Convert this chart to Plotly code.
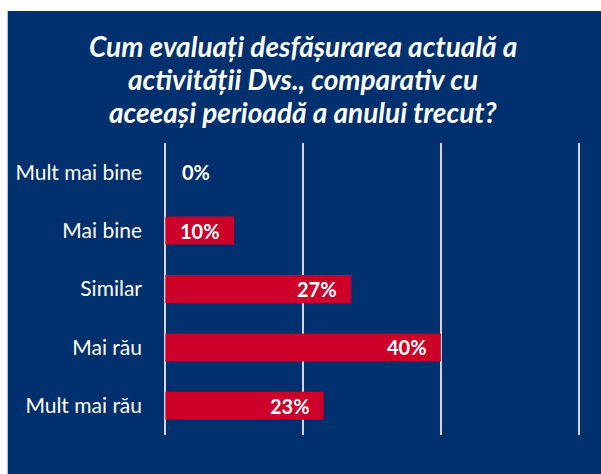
import plotly.graph_objects as go

categories = ["Mult mai bine", "Mai bine", "Similar", "Mai rău", "Mult mai rău"]
values = [0, 10, 27, 40, 23]
value_labels = ["0%", "10%", "27%", "40%", "23%"]
x_ticks = [0, 20, 40, 60]
title_lines = [
    "Cum evaluați desfășurarea actuală a",
    "activității Dvs., comparativ cu",
    "aceeași perioadă a anului trecut?",
]

W, H = 601, 474
X0_PX, X60_PX = 165, 579
UNIT = (X60_PX - X0_PX) / 60.0
XMIN, XMAX = -0.35, 60.35
L = X0_PX - (0 - XMIN) * UNIT
R = W - (X60_PX + (XMAX - 60) * UNIT)
T, B = 143, 39
PW, PH = W - L - R, H - T - B

BLUE = "#00306e"
RED = "#cc0029"
FONT = "Lato"


def px_to_paper_x(px):
    return (px - L) / PW


def px_to_paper_y(py):
    return (H - B - py) / PH


fig = go.Figure(
    go.Bar(
        x=values,
        y=categories,
        orientation="h",
        marker=dict(color=RED, line=dict(width=0)),
        width=0.48,
        hoverinfo="skip",
    )
)

annotations = []
for cat, v, lab in zip(categories, values, value_labels):
    if v > 0:
        annotations.append(dict(x=v, y=cat, xref="x", yref="y", text=lab, showarrow=False,
                                xanchor="right", xshift=-12,
                                font=dict(family=FONT, size=20, color="white", weight="bold")))
    else:
        annotations.append(dict(x=v, y=cat, xref="x", yref="y", text=lab, showarrow=False,
                                xanchor="left", xshift=15,
                                font=dict(family=FONT, size=20, color="white", weight="bold")))

title_centers = [46, 79, 112]
for line, cy in zip(title_lines, title_centers):
    annotations.append(dict(x=px_to_paper_x(303), y=px_to_paper_y(cy), xref="paper", yref="paper",
                            text=line, showarrow=False, xanchor="center", yanchor="middle",
                            font=dict(family=FONT, size=28, color="white", weight="bold", style="italic")))

fig.update_layout(
    width=W,
    height=H,
    margin=dict(l=L, r=R, t=T, b=B, pad=0),
    paper_bgcolor="white",
    plot_bgcolor=BLUE,
    showlegend=False,
    bargap=0.52,
    annotations=annotations,
    shapes=[
        dict(type="rect", xref="paper", yref="paper",
             x0=px_to_paper_x(7), x1=px_to_paper_x(W + 2),
             y0=px_to_paper_y(H + 2), y1=px_to_paper_y(11),
             fillcolor=BLUE, line=dict(width=0), layer="below"),
        dict(type="line", xref="paper", yref="paper",
             x0=px_to_paper_x(6.5), x1=px_to_paper_x(6.5),
             y0=px_to_paper_y(H + 2), y1=px_to_paper_y(11),
             line=dict(color="#c8c8c8", width=1), layer="below"),
    ],
    xaxis=dict(
        range=[XMIN, XMAX],
        tickvals=x_ticks,
        showticklabels=False,
        showgrid=True,
        gridcolor="#d4d4d4",
        gridwidth=1.5,
        zeroline=False,
        showline=False,
        fixedrange=True,
    ),
    yaxis=dict(
        autorange="reversed",
        showgrid=False,
        zeroline=False,
        showline=False,
        ticks="",
        ticklabelstandoff=int(round(L - 143)),
        tickfont=dict(family=FONT, size=21, color="white"),
        fixedrange=True,
    ),
)

fig.write_html(
    "out.html",
    config={"displayModeBar": False},
    post_script="document.body.style.margin='0';document.body.style.padding='0';",
)
